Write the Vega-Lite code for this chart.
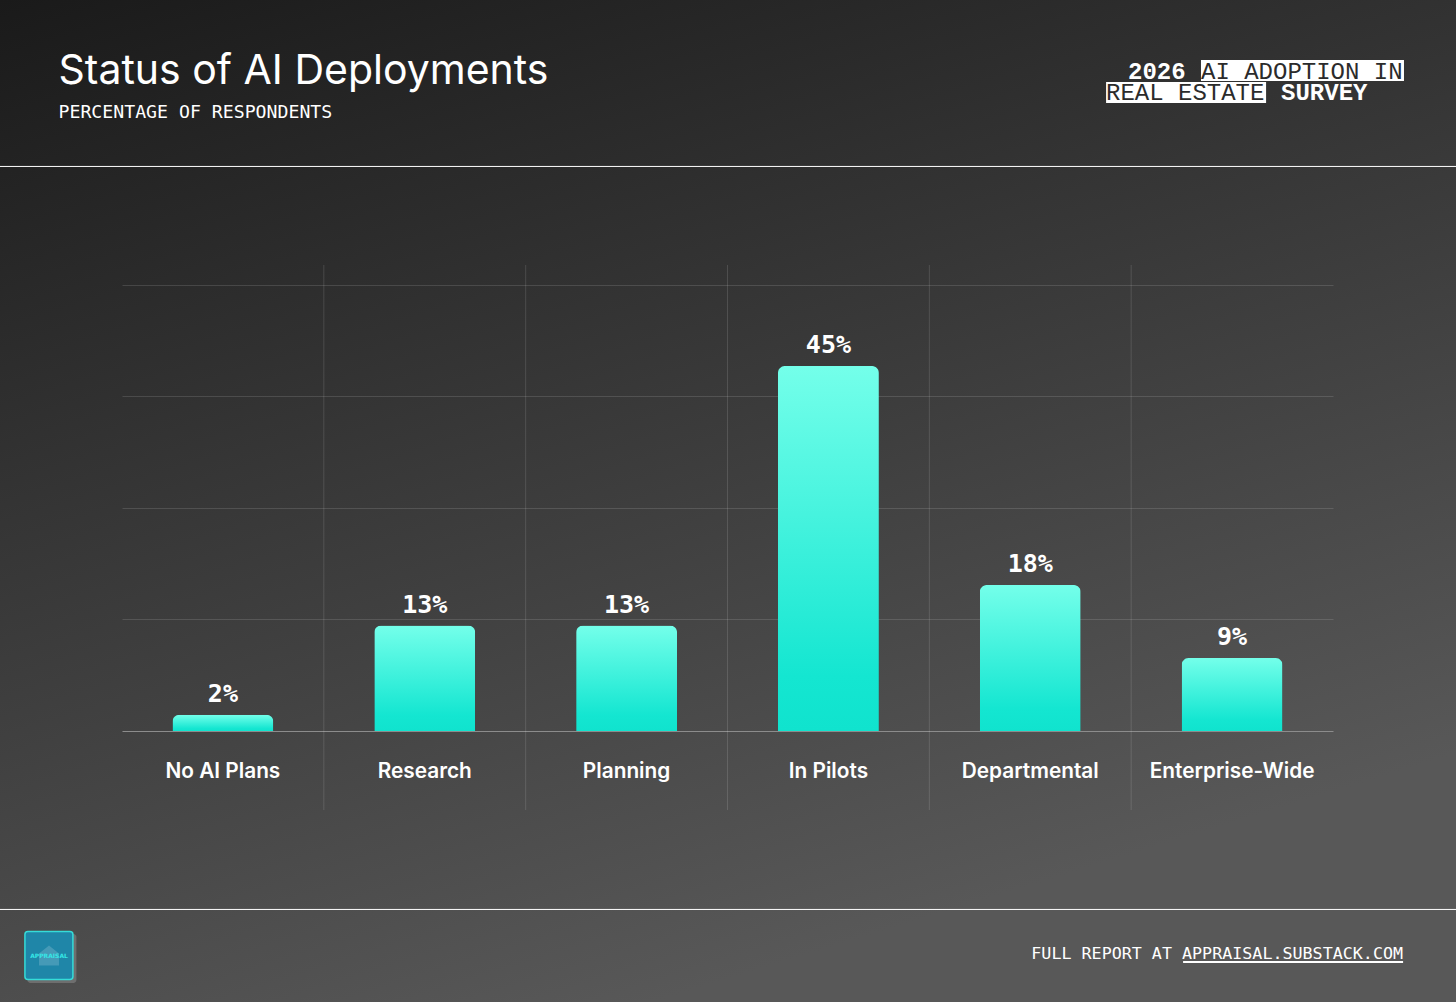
{
  "$schema": "https://vega.github.io/schema/vega-lite/v6.json",
  "width": 1456,
  "height": 1002,
  "padding": 0,
  "autosize": {"type": "none"},
  "background": "#3a3a3a",
  "view": {
    "stroke": null,
    "fill": {
      "gradient": "linear",
      "x1": 0, "y1": 0, "x2": 0.45, "y2": 1,
      "stops": [
        {"offset": 0, "color": "#1a1a1a"},
        {"offset": 1, "color": "#585858"}
      ]
    }
  },
  "title": {
    "text": "Status of AI Deployments",
    "subtitle": "PERCENTAGE OF RESPONDENTS",
    "anchor": "start",
    "frame": "group",
    "dx": 58.5,
    "offset": -122.5,
    "font": "Inter",
    "fontSize": 41,
    "fontWeight": 400,
    "color": "#ffffff",
    "subtitleFont": "DejaVu Sans Mono",
    "subtitleFontSize": 18.2,
    "subtitleColor": "#ffffff",
    "subtitlePadding": 11
  },
  "data": {
    "values": [
      {"category": "No AI Plans", "value": 2, "label": "2%"},
      {"category": "Research", "value": 13, "label": "13%"},
      {"category": "Planning", "value": 13, "label": "13%"},
      {"category": "In Pilots", "value": 45, "label": "45%"},
      {"category": "Departmental", "value": 18, "label": "18%"},
      {"category": "Enterprise-Wide", "value": 9, "label": "9%"}
    ]
  },
  "layer": [
    {
      "mark": {
        "type": "bar",
        "width": {"band": 0.5},
        "cornerRadiusTopLeft": 7,
        "cornerRadiusTopRight": 7,
        "color": {
          "gradient": "linear",
          "x1": 0, "y1": 0, "x2": 0, "y2": 1,
          "stops": [
            {"offset": 0, "color": "#74ffea"},
            {"offset": 0.85, "color": "#14e6d1"},
            {"offset": 1, "color": "#10e3ce"}
          ]
        }
      },
      "encoding": {
        "x": {
          "field": "category",
          "type": "nominal",
          "sort": null,
          "scale": {
            "type": "band",
            "domain": ["No AI Plans", "Research", "Planning", "In Pilots", "Departmental", "Enterprise-Wide"],
            "range": [122, 1333],
            "paddingInner": 0,
            "paddingOuter": 0
          },
          "axis": {
            "title": null,
            "offset": -271,
            "domainColor": "#8c8c8c",
            "domainWidth": 1,
            "ticks": false,
            "grid": false,
            "labelAngle": 0,
            "labelFont": "Inter",
            "labelFontSize": 20.8,
            "labelFontWeight": 600,
            "labelColor": "#ffffff",
            "labelPadding": 30
          }
        },
        "y": {
          "field": "value",
          "type": "quantitative",
          "scale": {"domain": [-33.41, 90.12], "nice": false, "zero": false},
          "axis": {
            "title": null,
            "values": [13.75, 27.5, 41.25, 55],
            "labels": false,
            "ticks": false,
            "domain": false,
            "grid": true,
            "gridColor": "#ffffff",
            "gridOpacity": 0.13,
            "gridWidth": 1
          }
        }
      }
    },
    {
      "transform": [{"filter": "datum.category != 'Enterprise-Wide'"}],
      "mark": {"type": "rule", "color": "#ffffff", "opacity": 0.13, "strokeWidth": 1},
      "encoding": {
        "x": {"field": "category", "type": "nominal", "bandPosition": 1, "sort": null},
        "y": {"datum": -9.74, "type": "quantitative"},
        "y2": {"datum": 57.45}
      }
    },
    {
      "mark": {"type": "text", "font": "DejaVu Sans Mono", "fontWeight": "bold", "fontSize": 25, "color": "#ffffff", "dy": -21, "baseline": "middle"},
      "encoding": {
        "x": {"field": "category", "type": "nominal", "sort": null},
        "y": {"field": "value", "type": "quantitative"},
        "text": {"field": "label"}
      }
    },
    {
      "data": {"values": [{}]},
      "mark": {"type": "rule", "color": "#ffffff", "strokeWidth": 1},
      "encoding": {"y": {"datum": 69.6, "type": "quantitative"}}
    },
    {
      "data": {"values": [{}]},
      "mark": {"type": "rule", "color": "#ffffff", "strokeWidth": 1},
      "encoding": {"y": {"datum": -22.0, "type": "quantitative"}}
    },
    {
      "data": {"values": [{}]},
      "mark": {"type": "rect", "color": "#ffffff", "width": 203, "height": 21, "xOffset": 70.4},
      "encoding": {
        "x": {"datum": "Enterprise-Wide", "type": "nominal"},
        "y": {"datum": 81.43, "type": "quantitative"}
      }
    },
    {
      "data": {"values": [{}]},
      "mark": {"type": "rect", "color": "#ffffff", "width": 160, "height": 21, "xOffset": -46},
      "encoding": {
        "x": {"datum": "Enterprise-Wide", "type": "nominal"},
        "y": {"datum": 78.71, "type": "quantitative"}
      }
    },
    {
      "data": {"values": [{}]},
      "mark": {"type": "text", "text": "2026", "align": "left", "baseline": "middle", "font": "Liberation Mono", "fontWeight": "bold", "fontSize": 24, "color": "#ffffff"},
      "encoding": {
        "x": {"datum": "Enterprise-Wide", "type": "nominal", "bandPosition": -0.0157},
        "y": {"datum": 81.25, "type": "quantitative"}
      }
    },
    {
      "data": {"values": [{}]},
      "mark": {"type": "text", "text": "AI ADOPTION IN", "align": "left", "baseline": "middle", "font": "Liberation Mono", "fontSize": 24, "color": "#2b2b2b"},
      "encoding": {
        "x": {"datum": "Enterprise-Wide", "type": "nominal", "bandPosition": 0.346},
        "y": {"datum": 81.25, "type": "quantitative"}
      }
    },
    {
      "data": {"values": [{}]},
      "mark": {"type": "text", "text": "REAL ESTATE", "align": "left", "baseline": "middle", "font": "Liberation Mono", "fontSize": 24, "color": "#2b2b2b"},
      "encoding": {
        "x": {"datum": "Enterprise-Wide", "type": "nominal", "bandPosition": -0.1247},
        "y": {"datum": 78.6, "type": "quantitative"}
      }
    },
    {
      "data": {"values": [{}]},
      "mark": {"type": "text", "text": "SURVEY", "align": "left", "baseline": "middle", "font": "Liberation Mono", "fontWeight": "bold", "fontSize": 24, "color": "#ffffff"},
      "encoding": {
        "x": {"datum": "Enterprise-Wide", "type": "nominal", "bandPosition": 0.7425},
        "y": {"datum": 78.6, "type": "quantitative"}
      }
    },
    {
      "data": {"values": [{}]},
      "mark": {"type": "text", "text": "FULL REPORT AT APPRAISAL.SUBSTACK.COM", "align": "right", "baseline": "middle", "font": "DejaVu Sans Mono", "fontSize": 16.7, "color": "#ffffff"},
      "encoding": {
        "x": {"datum": "Enterprise-Wide", "type": "nominal", "bandPosition": 1.347},
        "y": {"datum": -27.5, "type": "quantitative"}
      }
    },
    {
      "data": {"values": [{}]},
      "mark": {"type": "rect", "color": "#ffffff", "width": 220, "height": 2, "xOffset": 61},
      "encoding": {
        "x": {"datum": "Enterprise-Wide", "type": "nominal"},
        "y": {"datum": -28.48, "type": "quantitative"}
      }
    },
    {
      "data": {"values": [{}]},
      "mark": {"type": "rect", "color": "#6e6e6e", "width": 49, "height": 49, "cornerRadius": 3, "xOffset": -171},
      "encoding": {
        "x": {"datum": "No AI Plans", "type": "nominal"},
        "y": {"datum": -28.05, "type": "quantitative"}
      }
    },
    {
      "data": {"values": [{}]},
      "mark": {"type": "rect", "color": "#1f86a8", "stroke": "#35dcd8", "strokeWidth": 1.5, "width": 48, "height": 48, "cornerRadius": 3, "xOffset": -174},
      "encoding": {
        "x": {"datum": "No AI Plans", "type": "nominal"},
        "y": {"datum": -27.68, "type": "quantitative"}
      }
    },
    {
      "data": {"values": [{}]},
      "mark": {"type": "point", "filled": true, "color": "#5fa9c2", "opacity": 0.6, "size": 400, "shape": "M-1,-0.2L0,-1L1,-0.2L1,1L-1,1Z"},
      "encoding": {
        "x": {"datum": "No AI Plans", "type": "nominal", "bandPosition": -0.3617},
        "y": {"datum": -27.68, "type": "quantitative"}
      }
    },
    {
      "data": {"values": [{}]},
      "mark": {"type": "text", "text": "APPRAISAL", "font": "DejaVu Sans", "fontWeight": "bold", "fontSize": 6, "baseline": "middle", "color": "#35e6e6"},
      "encoding": {
        "x": {"datum": "No AI Plans", "type": "nominal", "bandPosition": -0.3617},
        "y": {"datum": -27.68, "type": "quantitative"}
      }
    }
  ]
}
